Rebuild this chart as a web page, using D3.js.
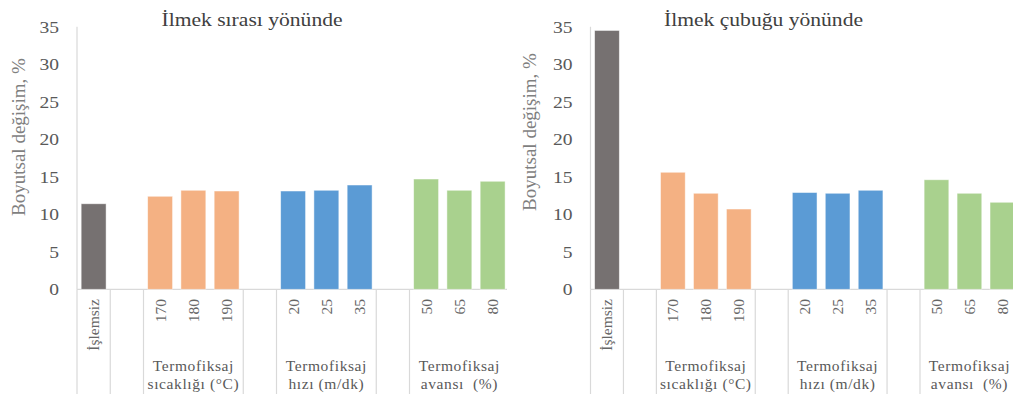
<!DOCTYPE html>
<html><head><meta charset="utf-8">
<script src="https://cdn.jsdelivr.net/npm/d3@7"></script>
<style>body{margin:0;background:#fff} svg{display:block} text{font-family:"Liberation Serif",Tinos,"Times New Roman",Times,serif}</style>
</head><body>
<svg id="c" width="1013" height="394"></svg>
<script>
const categories = ["İşlemsiz","","170","180","190","","20","25","35","","50","65","80"];
const seriesSira = [11.4,null,12.4,13.2,13.1,null,13.1,13.2,13.9,null,14.7,13.2,14.4];
const seriesCubuk = [34.5,null,15.6,12.8,10.7,null,12.9,12.8,13.2,null,14.6,12.8,11.6];
const groupOf = ["isl","b1","sic","sic","sic","b2","hiz","hiz","hiz","b3","avans","avans","avans"];
const groupNames = ["sic","hiz","avans"];
const groupLabels = [["Termofiksaj","sıcaklığı (°C)"],["Termofiksaj","hızı (m/dk)"],["Termofiksaj","avansı  (%)"]];
const yTicks = [0,5,10,15,20,25,30,35];
const titles = ["İlmek sırası yönünde","İlmek çubuğu yönünde"];
const yLabel = "Boyutsal değişim, %";
const colorFor = {isl:"#767171", sic:"#F4B183", hiz:"#5B9BD5", avans:"#A9D18E"};

const svg = d3.select("#c");
const y = d3.scaleLinear().domain([0,35]).range([289.3,26.7]);

const panels = [
  {x0:77, slot:33.25, clipR:507, values:seriesSira, title:titles[0], tx:175, ylx:18, yly:137},
  {x0:590.5, slot:32.95, clipR:1013, values:seriesCubuk, title:titles[1], tx:173, ylx:529, yly:132}
];

panels.forEach((p,pi)=>{
  const n = categories.length;
  const x = d3.scaleBand().domain(d3.range(n)).range([p.x0, p.x0+n*p.slot]).paddingInner(0.25).paddingOuter(0.125);
  const step = x.step();
  const bx = i => p.x0 + i*step;

  svg.append("clipPath").attr("id","clip"+pi).append("rect")
    .attr("x",0).attr("y",0).attr("width",p.clipR).attr("height",394);
  const g = svg.append("g").attr("clip-path",`url(#clip${pi})`);

  g.append("line").attr("x1",p.x0).attr("x2",p.x0).attr("y1",y(0)).attr("y2",y(35))
    .attr("stroke","#d9d9d9").attr("stroke-width",1.2);
  g.append("line").attr("x1",p.x0).attr("x2",bx(n)).attr("y1",y(0)).attr("y2",y(0))
    .attr("stroke","#d9d9d9").attr("stroke-width",1.2);

  const bounds = [0];
  for(let i=1;i<n;i++){ if(groupOf[i]!==groupOf[i-1]) bounds.push(i); }
  bounds.push(n);
  g.selectAll(".sep").data(bounds).join("line")
    .attr("x1",d=>bx(d)).attr("x2",d=>bx(d)).attr("y1",y(0)).attr("y2",394)
    .attr("stroke","#d9d9d9").attr("stroke-width",1.2);

  const barData = p.values.map((v,i)=>({v,i})).filter(d=>d.v!=null);
  g.selectAll(".bar").data(barData).join("rect")
    .attr("x",d=>x(d.i)).attr("width",x.bandwidth())
    .attr("y",d=>y(d.v)).attr("height",d=>y(0)-y(d.v))
    .attr("fill",d=>colorFor[groupOf[d.i]])
    .attr("stroke","#ffffff").attr("stroke-opacity",0.6).attr("stroke-width",0.8);

  g.selectAll(".yt").data(yTicks).join("text")
    .attr("transform",d=>`translate(${p.x0-18},${y(d)}) scale(1.15,1)`)
    .attr("dy","0.35em").attr("text-anchor","end")
    .style("font-size","17px").attr("fill","#595959")
    .text(d=>d);

  g.append("text").attr("transform",`translate(${p.x0+p.tx},25.5) scale(1.2,1)`)
    .attr("text-anchor","middle").style("font-size","18px")
    .attr("fill","#404040").text(p.title);

  g.append("text").attr("transform",`translate(${p.ylx},${p.yly}) rotate(-90)`)
    .attr("dy","0.35em").attr("text-anchor","middle")
    .style("font-size","19px").attr("fill","#7f7f7f").text(yLabel);

  g.selectAll(".cl").data(categories.map((c,i)=>({c,i})).filter(d=>d.c!=="")).join("text")
    .attr("transform",d=>`translate(${x(d.i)+x.bandwidth()/2},299) rotate(-90)`)
    .attr("dy","0.35em").attr("text-anchor","end")
    .style("font-size","15.5px").attr("fill","#666666").text(d=>d.c);

  groupNames.forEach((gn,gi)=>{
    const idx = d3.range(n).filter(i=>groupOf[i]===gn);
    const cx = (bx(d3.min(idx)) + bx(d3.max(idx)+1))/2;
    groupLabels[gi].forEach((line,li)=>{
      g.append("text").attr("x",cx).attr("y",371+li*18)
        .attr("text-anchor","middle").style("font-size","15.5px")
        .attr("xml:space","preserve").style("white-space","pre")
        .style("letter-spacing","0.6px").attr("fill","#595959").text(line);
    });
  });
});
</script>
</body></html>
